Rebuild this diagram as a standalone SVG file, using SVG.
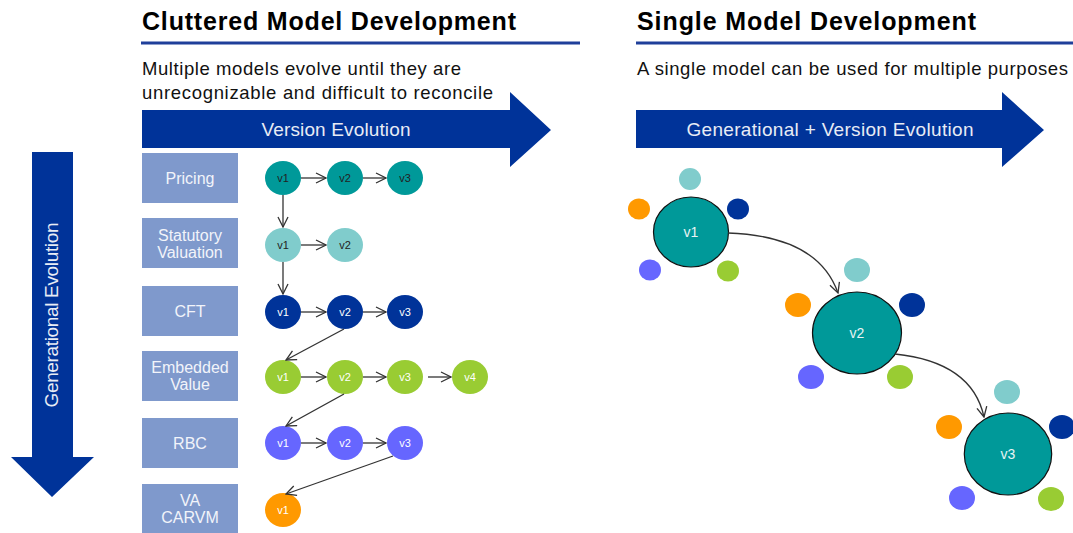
<svg xmlns="http://www.w3.org/2000/svg" width="1073" height="533" viewBox="0 0 1073 533">
<style>
text{font-family:"Liberation Sans",Arial,sans-serif}
.title{font-size:25px;font-weight:bold;fill:#000}
.sub{font-size:18.5px;fill:#111}
.rule{stroke:#1f3f9a;stroke-width:3}
.bigarrow{fill:#003399}
.arrtxt{font-size:19px;fill:#e8ecf5;text-anchor:middle}
.lbl rect{fill:#7f99cc}
.lbl text{font-size:16px;fill:#f2f4fa;text-anchor:middle}
.n text{font-size:11px;text-anchor:middle}
.lt{fill:#fff}
.dk{fill:#222}
.big text{font-size:14px;fill:#e8f4f4;text-anchor:middle}
.big ellipse.core{fill:#009999;stroke:#111;stroke-width:1.2}
.c1{fill:#009999}.c2{fill:#80cccc}.c3{fill:#003399}.c4{fill:#99cc33}.c5{fill:#6666ff}.c6{fill:#ff9900}
.conn path,.conn line{stroke:#333;stroke-width:1.3;fill:none;marker-end:url(#ah)}
</style>
<defs>
<marker id="ah" viewBox="0 0 12 12" refX="11" refY="6" markerWidth="12" markerHeight="12" markerUnits="userSpaceOnUse" orient="auto">
<path d="M1,1 L11,6 L1,11" fill="none" stroke="#333" stroke-width="1.3"/>
</marker>
</defs>

<g id="left-header">
<text class="title" x="142" y="30" textLength="374" lengthAdjust="spacing">Cluttered Model Development</text>
<line class="rule" x1="141" y1="43" x2="580" y2="43"/>
<text class="sub" x="142" y="75" textLength="319" lengthAdjust="spacing">Multiple models evolve until they are</text>
<text class="sub" x="142" y="99" textLength="351" lengthAdjust="spacing">unrecognizable  and difficult to reconcile</text>
</g>
<g id="right-header">
<text class="title" x="637" y="30" textLength="339" lengthAdjust="spacing">Single Model Development</text>
<line class="rule" x1="636" y1="43" x2="1073" y2="43"/>
<text class="sub" x="637" y="75" textLength="431" lengthAdjust="spacing">A single model can be used for multiple purposes</text>
</g>

<g id="version-arrow">
<polygon class="bigarrow" points="142,110 510,110 510,92 551,130 510,167 510,148 142,148"/>
<text class="arrtxt" x="336" y="136" textLength="149" lengthAdjust="spacing">Version Evolution</text>
</g>
<g id="gen-version-arrow">
<polygon class="bigarrow" points="636,110 1002,110 1002,92 1044,130 1002,167 1002,148 636,148"/>
<text class="arrtxt" x="830" y="136" textLength="287" lengthAdjust="spacing">Generational  + Version Evolution</text>
</g>
<g id="gen-arrow">
<polygon class="bigarrow" points="32,152 73,152 73,457 94,457 52,497 11,457 32,457"/>
<text class="arrtxt" transform="translate(58,315) rotate(-90)" x="0" y="0" textLength="185" lengthAdjust="spacing">Generational  Evolution</text>
</g>

<g id="label-pricing" class="lbl"><rect x="142" y="153" width="96" height="50"/><text x="190" y="184">Pricing</text></g>
<g id="label-statutory" class="lbl"><rect x="142" y="218" width="96" height="50"/><text x="190" y="241">Statutory</text><text x="190" y="258">Valuation</text></g>
<g id="label-cft" class="lbl"><rect x="142" y="286" width="96" height="50"/><text x="190" y="317">CFT</text></g>
<g id="label-ev" class="lbl"><rect x="142" y="351" width="96" height="50"/><text x="190" y="373">Embedded</text><text x="190" y="390">Value</text></g>
<g id="label-rbc" class="lbl"><rect x="142" y="418" width="96" height="50"/><text x="190" y="449">RBC</text></g>
<g id="label-va" class="lbl"><rect x="142" y="484" width="96" height="50"/><text x="190" y="506">VA</text><text x="190" y="523">CARVM</text></g>

<g id="pricing-v1" class="n"><ellipse class="c1" cx="283" cy="178" rx="18" ry="17"/><text class="dk" x="283" y="182">v1</text></g>
<g id="pricing-v2" class="n"><ellipse class="c1" cx="345" cy="178" rx="18" ry="17"/><text class="dk" x="345" y="182">v2</text></g>
<g id="pricing-v3" class="n"><ellipse class="c1" cx="405" cy="178" rx="18" ry="17"/><text class="dk" x="405" y="182">v3</text></g>
<g id="stat-v1" class="n"><ellipse class="c2" cx="283" cy="245" rx="18" ry="17"/><text class="dk" x="283" y="249">v1</text></g>
<g id="stat-v2" class="n"><ellipse class="c2" cx="345" cy="245" rx="18" ry="17"/><text class="dk" x="345" y="249">v2</text></g>
<g id="cft-v1" class="n"><ellipse class="c3" cx="283" cy="312" rx="18" ry="17"/><text class="lt" x="283" y="316">v1</text></g>
<g id="cft-v2" class="n"><ellipse class="c3" cx="345" cy="312" rx="18" ry="17"/><text class="lt" x="345" y="316">v2</text></g>
<g id="cft-v3" class="n"><ellipse class="c3" cx="405" cy="312" rx="18" ry="17"/><text class="lt" x="405" y="316">v3</text></g>
<g id="ev-v1" class="n"><ellipse class="c4" cx="283" cy="377" rx="18" ry="17"/><text class="lt" x="283" y="381">v1</text></g>
<g id="ev-v2" class="n"><ellipse class="c4" cx="345" cy="377" rx="18" ry="17"/><text class="lt" x="345" y="381">v2</text></g>
<g id="ev-v3" class="n"><ellipse class="c4" cx="405" cy="377" rx="18" ry="17"/><text class="lt" x="405" y="381">v3</text></g>
<g id="ev-v4" class="n"><ellipse class="c4" cx="470" cy="377" rx="18" ry="17"/><text class="lt" x="470" y="381">v4</text></g>
<g id="rbc-v1" class="n"><ellipse class="c5" cx="283" cy="443" rx="18" ry="17"/><text class="lt" x="283" y="447">v1</text></g>
<g id="rbc-v2" class="n"><ellipse class="c5" cx="345" cy="443" rx="18" ry="17"/><text class="lt" x="345" y="447">v2</text></g>
<g id="rbc-v3" class="n"><ellipse class="c5" cx="405" cy="443" rx="18" ry="17"/><text class="lt" x="405" y="447">v3</text></g>
<g id="va-v1" class="n"><ellipse class="c6" cx="283" cy="510" rx="18" ry="17"/><text class="lt" x="283" y="514">v1</text></g>

<g id="big-v1" class="big">
<ellipse class="c2" cx="690" cy="179" rx="11" ry="11"/>
<ellipse class="c6" cx="639" cy="209" rx="11" ry="10.5"/>
<ellipse class="c3" cx="738" cy="209" rx="11" ry="10.5"/>
<ellipse class="c5" cx="650" cy="270" rx="11" ry="10.5"/>
<ellipse class="c4" cx="728" cy="271" rx="11" ry="10.5"/>
<ellipse class="core" cx="691" cy="232" rx="37.5" ry="35"/>
<text x="691" y="237">v1</text>
</g>
<g id="big-v2" class="big">
<ellipse class="c2" cx="857" cy="270" rx="13" ry="12"/>
<ellipse class="c6" cx="798" cy="305" rx="13" ry="12"/>
<ellipse class="c3" cx="912" cy="305" rx="13" ry="12"/>
<ellipse class="c5" cx="811" cy="377" rx="13" ry="12"/>
<ellipse class="c4" cx="900" cy="377" rx="13" ry="12"/>
<ellipse class="core" cx="857" cy="333" rx="44.5" ry="41"/>
<text x="857" y="338">v2</text>
</g>
<g id="big-v3" class="big">
<ellipse class="c2" cx="1007" cy="392" rx="13" ry="12"/>
<ellipse class="c6" cx="949" cy="427" rx="13" ry="12"/>
<ellipse class="c3" cx="1062" cy="427" rx="13" ry="12"/>
<ellipse class="c5" cx="962" cy="498" rx="13" ry="12"/>
<ellipse class="c4" cx="1051" cy="499" rx="13" ry="12"/>
<ellipse class="core" cx="1008" cy="454" rx="43.7" ry="41"/>
<text x="1008" y="459">v3</text>
</g>

<g id="connectors" class="conn">
<line x1="301" y1="178" x2="326" y2="178"/>
<line x1="363" y1="178" x2="386" y2="178"/>
<line x1="283" y1="195" x2="283" y2="227"/>
<line x1="301" y1="245" x2="326" y2="245"/>
<line x1="283" y1="262" x2="283" y2="294"/>
<line x1="301" y1="312" x2="326" y2="312"/>
<line x1="363" y1="312" x2="386" y2="312"/>
<line x1="344" y1="329" x2="286" y2="360"/>
<line x1="301" y1="377" x2="326" y2="377"/>
<line x1="363" y1="377" x2="386" y2="377"/>
<line x1="428" y1="377" x2="451" y2="377"/>
<line x1="344" y1="394" x2="286" y2="426"/>
<line x1="301" y1="443" x2="326" y2="443"/>
<line x1="363" y1="443" x2="386" y2="443"/>
<line x1="393" y1="456" x2="286" y2="494"/>
<path d="M728,233 Q818,236 838,293"/>
<path d="M895,354 Q972,362 984,417"/>
</g>
</svg>
